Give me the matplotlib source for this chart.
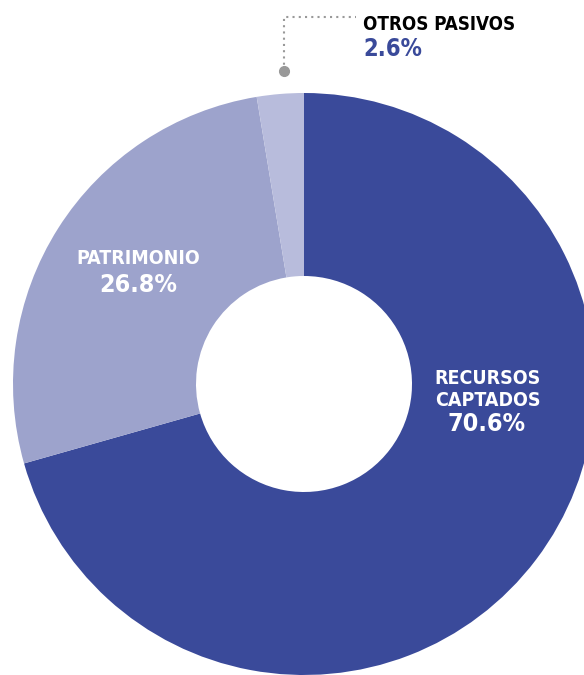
import matplotlib.pyplot as plt

labels = ['RECURSOS\nCAPTADOS', 'PATRIMONIO', 'OTROS PASIVOS']
values = [70.6, 26.8, 2.6]
colors = ['#3a4a9a', '#9da3cc', '#b8bcdc']

fig = plt.figure(figsize=(5.84, 6.75), dpi=100)
ax = fig.add_axes([0, 0, 1, 1])

R = 291
ax.pie(values, colors=colors, startangle=90, counterclock=False,
       center=(304, 291), radius=R, frame=True,
       wedgeprops=dict(width=R - 108, linewidth=0))
ax.set_xlim(0, 584)
ax.set_ylim(0, 675)
ax.set_aspect('equal')
ax.axis('off')

font = dict(family='DejaVu Sans', fontstretch='condensed')

# labels inside the ring
ax.text(488, 285.5, labels[0], color='white', fontsize=14, fontweight='semibold',
        ha='center', va='center', linespacing=1.15, **font)
ax.text(487, 251, f'{values[0]}%', color='white', fontsize=18, fontweight='semibold',
        ha='center', va='center', **font)
ax.text(138, 416, labels[1], color='white', fontsize=14, fontweight='semibold',
        ha='center', va='center', **font)
ax.text(138, 390, f'{values[1]}%', color='white', fontsize=18, fontweight='semibold',
        ha='center', va='center', **font)

# callout for the small slice
ax.plot([284, 284, 356], [604, 658, 658], color='#999999', lw=1.5, ls=(0, (1, 2)))
ax.plot(284, 604, 'o', color='#999999', ms=7)
ax.text(363, 651, labels[2], color='black', fontsize=13.5, fontweight='bold',
        ha='left', va='center', **font)
ax.text(363, 626, f'{values[2]}%', color='#3a4a9a', fontsize=17, fontweight='bold',
        ha='left', va='center', **font)

fig.savefig('out.png', dpi=100)
